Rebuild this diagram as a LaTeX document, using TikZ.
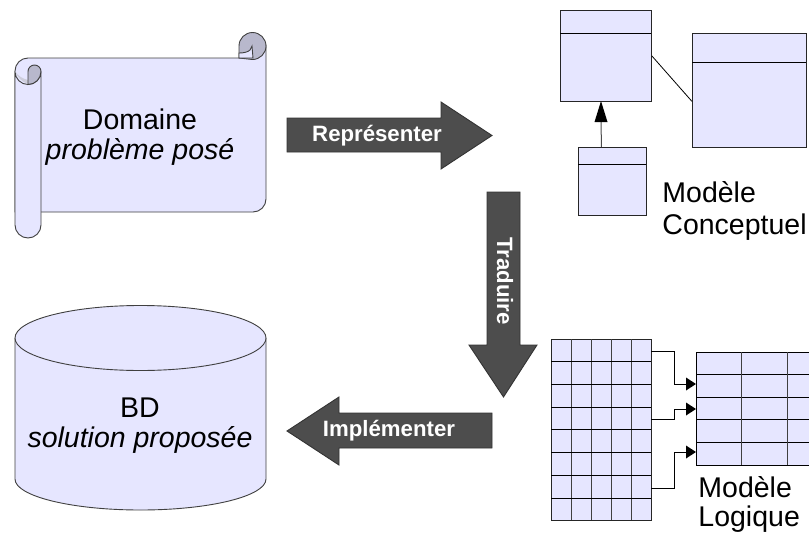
\documentclass[tikz,border=0pt]{standalone}
\usepackage{xcolor}
\usepackage{tikz}
\usepackage{fontspec}
\setmainfont{Liberation Sans}
\definecolor{pale}{HTML}{E6E6FF}
\definecolor{paledark}{HTML}{B8B8CC}
\definecolor{arrowgrey}{HTML}{4D4D4D}
\begin{document}
\begin{tikzpicture}[x=1pt,y=-1pt,line width=0.9pt]

	\tikzstyle{shapefill} = [draw=black!75,fill=pale]
	\tikzstyle{bigarrow} = [draw=black!80,fill=arrowgrey]
	\tikzstyle{arrowlabel} = [text=white,font=\fontsize{22.2}{24}\selectfont\bfseries,inner sep=0pt]
	\tikzstyle{bigtext} = [font=\fontsize{28.5}{30}\selectfont,align=center,inner sep=0pt]
	\tikzstyle{sidetext} = [font=\fontsize{28.5}{32}\selectfont,align=left,anchor=north west,inner sep=0pt]
	\tikzstyle{umlbox} = [draw=black!85,fill=pale,inner sep=0pt,anchor=north west]
	\tikzstyle{link} = [draw=black,line width=0.8pt]
	\tikzstyle{fk} = [draw=black,line width=0.8pt]

	\useasboundingbox (0,0) rectangle (809,533);

	% scroll
	\draw[shapefill] (15,71) arc[radius=13,start angle=180,end angle=270] -- (253,58)
		arc[radius=13,start angle=90,end angle=0] -- (266,199)
		arc[radius=13,start angle=0,end angle=90] -- (28,212) -- (15,212) -- cycle;
	\draw[draw=black!75,fill=paledark] (239,58) -- (239,46) arc[radius=13.5,start angle=180,end angle=360]
		arc[radius=13.5,start angle=0,end angle=90] -- cycle;
	\draw[draw=black!75,fill=pale] (239,58) -- (239,53) .. controls (244,53) and (248,52) .. (250,50) -- (252,46) -- (253,58) -- cycle;
	\draw[shapefill] (15,71) -- (15,225) arc[radius=13,start angle=180,end angle=0] -- (41,71.5)
		arc[radius=13,start angle=0,end angle=90]
		arc[radius=13,start angle=90,end angle=180] -- cycle;
	\draw[draw=none,fill=paledark!70] (15,71) .. controls (17,77) and (22,82) .. (28,84) -- (28,80) .. controls (23,79) and (18,76) .. (15,71);
	\draw[draw=black!75,fill=paledark] (28,84) -- (28,71.5) arc[radius=6.5,start angle=180,end angle=360]
		arc[radius=13,start angle=0,end angle=90] -- cycle;
	\node[bigtext] (domaine) at (140,137) {Domaine\\\itshape problème posé};

	% cylinder
	\draw[shapefill] (15,338) -- (15,479) arc[x radius=125.5,y radius=31,start angle=180,end angle=0] -- (266,338);
	\draw[shapefill] (140.5,338) ellipse[x radius=125.5,y radius=32.5];
	\node[bigtext] (bd) at (140,426) {BD\\\itshape solution proposée};

	% arrows
	\draw[bigarrow] (287,118) -- (441,118) -- (441,102) -- (492,135.5) -- (441,169) -- (441,152) -- (287,152) -- cycle;
	\node[arrowlabel] (represent) at (377,136) {Représenter};
	\draw[bigarrow] (487,192) -- (520,192) -- (520,345) -- (537,345) -- (503.5,397) -- (469,345) -- (487,345) -- cycle;
	\node[arrowlabel,rotate=-90] (traduire) at (505,281) {Traduire};
	\draw[bigarrow] (492,413) -- (339,413) -- (339,397) -- (287,431) -- (339,465) -- (339,448) -- (492,448) -- cycle;
	\node[arrowlabel] (implement) at (389,431) {Implémenter};

	% conceptual model
	\node[umlbox,minimum width=91pt,minimum height=91pt] (box1) at (560,10) {};
	\draw[link] (560,33) -- (651,33);
	\node[umlbox,minimum width=114pt,minimum height=114pt] (box2) at (692,33) {};
	\draw[link] (692,62) -- (806,62);
	\node[umlbox,minimum width=68pt,minimum height=68pt] (box3) at (578,147) {};
	\draw[link] (578,164) -- (646,164);
	\draw[link] (box1.east) -- ([yshift=-11pt]box2.west);
	\draw[draw=black!70,line width=1pt] ([xshift=-11pt]box3.north) -- (601,120);
	\fill (601,101) -- (607.5,122) -- (594.5,122) -- cycle;
	\node[sidetext] (conceptuel) at (662,181) {Modèle\\Conceptuel};

	% logical model
	\node[umlbox,minimum width=100pt,minimum height=181pt] (tab1) at (551,339) {};
	\foreach \i in {1,...,4}
		\draw[draw=black!75] (551+\i*20,339) -- (551+\i*20,520);
	\foreach \i in {1,...,7}
		\draw[fk] (551,339+\i*22.7) -- (651,339+\i*22.7);
	\fill[pale] (696,352) rectangle (809,465);
	\draw[fk] (809,352) -- (696,352) -- (696,465) -- (809,465);
	\foreach \i in {1,...,4}
		\draw[fk] (696,352+\i*22.6) -- (809,352+\i*22.6);
	\foreach \i in {1,2}
		\draw[draw=black!75] (696+\i*45.5,352) -- (696+\i*45.5,465);
	\foreach \ya/\yb in {351/384,419/409,488/452} {
		\draw[fk] (651,\ya) -- (674,\ya) -- (674,\yb) -- (687,\yb);
		\fill (696,\yb) -- (686,\yb-6.5) -- (686,\yb+6.5) -- cycle;
	}
	\node[sidetext,font=\fontsize{28.5}{29}\selectfont] (logique) at (698,476) {Modèle\\Logique};

\end{tikzpicture}
\end{document}
